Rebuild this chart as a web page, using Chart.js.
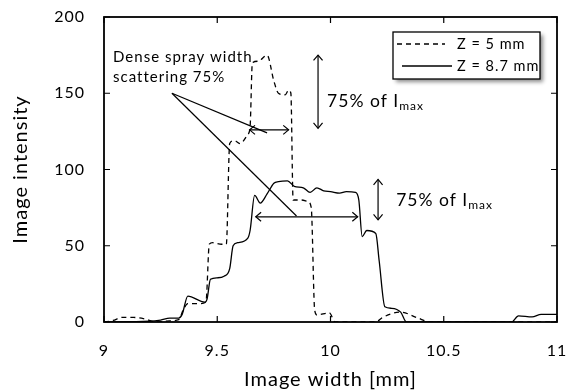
<!DOCTYPE html>
<html>
<head>
<meta charset="utf-8">
<script src="https://cdn.jsdelivr.net/npm/chart.js@4.4.1/dist/chart.umd.min.js"></script>
<style>
  html, body { margin: 0; padding: 0; background: #ffffff; }
  #wrap { width: 566px; height: 392px; }
</style>
</head>
<body>
<div id="wrap"><canvas id="chart" width="566" height="392"></canvas></div>
<script>
// ---- data ----
const xZ5 = [9.00, 9.04, 9.08, 9.13, 9.18, 9.23, 9.29, 9.33, 9.35, 9.37, 9.42, 9.45, 9.465, 9.48, 9.52, 9.54,
  9.555, 9.575, 9.60, 9.635, 9.645, 9.655, 9.68, 9.72, 9.75, 9.77, 9.80, 9.815, 9.825, 9.835, 9.87, 9.90,
  9.915, 9.93, 9.94, 9.995, 10.02, 10.20, 10.23, 10.31, 10.38, 10.44, 11.00];
const yZ5 = [0, 1, 3, 3, 2, 0, 0.8, 1.5, 8, 12, 12, 13, 51, 52, 51, 51,
  117, 119, 117, 123, 128, 170, 171, 175, 158, 150, 149, 152, 150, 80, 80, 79,
  75, 8, 4.6, 6, 0, 0, 3, 6.5, 3, 0, 0];

const xZ87 = [9.00, 9.20, 9.25, 9.29, 9.33, 9.345, 9.37, 9.445, 9.455, 9.47, 9.50, 9.53, 9.555, 9.57, 9.59, 9.635,
  9.645, 9.665, 9.69, 9.72, 9.75, 9.77, 9.81, 9.84, 9.88, 9.91, 9.94, 9.97, 10.00, 10.04, 10.07, 10.11,
  10.125, 10.14, 10.16, 10.20, 10.215, 10.24, 10.27, 10.31, 10.335, 10.80, 10.83, 10.89, 10.93, 11.00];
const yZ87 = [0, 0.5, 1.3, 2.6, 2.6, 5, 17, 13, 15, 28, 29, 30, 35, 50, 52, 55,
  60, 83, 78, 84, 91, 92, 92.5, 89, 88, 85, 88, 86, 85.5, 84.5, 85.5, 85,
  80, 56, 60, 58, 40, 10, 9, 6.5, 0, 0, 4, 3.3, 5, 5];

const xTicks = [9, 9.5, 10, 10.5, 11];
const yTicks = [0, 50, 100, 150, 200];

const seriesLabels = ["Z = 5 mm", "Z = 8.7 mm"];

// annotations, in data units
const noteText = ["Dense spray width", "scattering 75%"];
const notePos = [[9.04, 173.5], [9.04, 160.5]];
const leaderFrom = [9.30, 150];
const leaderTo = [[9.72, 124], [9.85, 69.5]];
const widthArrows = [[9.643, 9.815, 126], [9.67, 10.12, 69]];   // x1, x2, y
const heightArrows = [[9.945, 127, 175], [10.21, 67, 93.5]];    // x, y1, y2
const imaxLabels = [[9.985, 145], [10.29, 80]];

const FONT = "Lato, 'Open Sans', sans-serif";

function toXY(xs, ys) {
  return xs.map((x, i) => ({ x: x, y: ys[i] }));
}

function arrowHead(ctx, x, y, ang) {
  const len = 7, spread = 0.7;
  ctx.beginPath();
  ctx.moveTo(x - len * Math.cos(ang - spread), y - len * Math.sin(ang - spread));
  ctx.lineTo(x, y);
  ctx.lineTo(x - len * Math.cos(ang + spread), y - len * Math.sin(ang + spread));
  ctx.stroke();
}

function doubleArrow(ctx, x1, y1, x2, y2) {
  ctx.beginPath();
  ctx.moveTo(x1, y1);
  ctx.lineTo(x2, y2);
  ctx.stroke();
  const a = Math.atan2(y2 - y1, x2 - x1);
  arrowHead(ctx, x2, y2, a);
  arrowHead(ctx, x1, y1, a + Math.PI);
}

// the original text is rendered slightly spaced out
const spacingPlugin = {
  id: "spacing",
  beforeUpdate(chart) { chart.ctx.letterSpacing = "1px"; },
  beforeDraw(chart) { chart.ctx.letterSpacing = "1px"; },
};

const framePlugin = {
  id: "frame",
  afterDatasetsDraw(chart) {
    const ctx = chart.ctx;
    const xs = chart.scales.x, ys = chart.scales.y;
    const a = chart.chartArea;
    ctx.save();
    ctx.strokeStyle = "#000";
    ctx.fillStyle = "#000";
    ctx.setLineDash([]);

    // frame + inward ticks
    ctx.lineWidth = 1.8;
    ctx.strokeRect(a.left, a.top, a.right - a.left, a.bottom - a.top);
    ctx.lineWidth = 1.2;
    ctx.beginPath();
    xTicks.forEach((v) => {
      const px = xs.getPixelForValue(v);
      ctx.moveTo(px, a.bottom); ctx.lineTo(px, a.bottom - 6);
      ctx.moveTo(px, a.top); ctx.lineTo(px, a.top + 6);
    });
    yTicks.forEach((v) => {
      const py = ys.getPixelForValue(v);
      ctx.moveTo(a.left, py); ctx.lineTo(a.left + 6, py);
      ctx.moveTo(a.right, py); ctx.lineTo(a.right - 6, py);
    });
    ctx.stroke();

    // annotations
    ctx.lineWidth = 1.2;
    ctx.textBaseline = "middle";
    ctx.textAlign = "left";
    ctx.font = "15px " + FONT;
    noteText.forEach((t, i) => {
      ctx.fillText(t, xs.getPixelForValue(notePos[i][0]), ys.getPixelForValue(notePos[i][1]));
    });
    leaderTo.forEach((p) => {
      ctx.beginPath();
      ctx.moveTo(xs.getPixelForValue(leaderFrom[0]), ys.getPixelForValue(leaderFrom[1]));
      ctx.lineTo(xs.getPixelForValue(p[0]), ys.getPixelForValue(p[1]));
      ctx.stroke();
    });
    widthArrows.forEach((w) => {
      const py = ys.getPixelForValue(w[2]);
      doubleArrow(ctx, xs.getPixelForValue(w[0]), py, xs.getPixelForValue(w[1]), py);
    });
    heightArrows.forEach((h) => {
      const px = xs.getPixelForValue(h[0]);
      doubleArrow(ctx, px, ys.getPixelForValue(h[1]), px, ys.getPixelForValue(h[2]));
    });
    imaxLabels.forEach((p) => {
      const px = xs.getPixelForValue(p[0]), py = ys.getPixelForValue(p[1]);
      ctx.font = "17.5px " + FONT;
      ctx.fillText("75% of I", px, py);
      const w = ctx.measureText("75% of I").width;
      ctx.font = "12px " + FONT;
      ctx.fillText("max", px + w, py + 5);
    });

    // legend box
    const bx = a.right - 164, by = a.top + 15, bw = 147, bh = 47;
    ctx.save();
    ctx.shadowColor = "rgba(0,0,0,0.45)";
    ctx.shadowBlur = 4;
    ctx.shadowOffsetX = 3;
    ctx.shadowOffsetY = 3;
    ctx.fillStyle = "#fff";
    ctx.fillRect(bx, by, bw, bh);
    ctx.restore();
    ctx.lineWidth = 1.3;
    ctx.strokeRect(bx, by, bw, bh);
    chart.data.datasets.forEach((ds, i) => {
      const ly = by + 12 + i * 22;
      ctx.lineWidth = ds.borderWidth;
      ctx.setLineDash(ds.borderDash || []);
      ctx.beginPath();
      ctx.moveTo(bx + (i === 0 ? 4 : 9), ly);
      ctx.lineTo(bx + (i === 0 ? 52 : 59), ly);
      ctx.stroke();
      ctx.setLineDash([]);
      ctx.font = "14.5px " + FONT;
      ctx.fillText(ds.label, bx + 64, ly);
    });
    ctx.restore();
  }
};

new Chart(document.getElementById("chart"), {
  type: "line",
  data: {
    datasets: [
      {
        label: seriesLabels[0],
        data: toXY(xZ5, yZ5),
        borderColor: "#000",
        borderWidth: 1.3,
        borderDash: [5, 4],
        pointRadius: 0,
        fill: false,
        cubicInterpolationMode: "monotone",
      },
      {
        label: seriesLabels[1],
        data: toXY(xZ87, yZ87),
        borderColor: "#000",
        borderWidth: 1.3,
        pointRadius: 0,
        fill: false,
        cubicInterpolationMode: "monotone",
      },
    ],
  },
  options: {
    responsive: false,
    animation: false,
    events: [],
    layout: { padding: { top: 17, right: 9, left: 0, bottom: 0 } },
    plugins: {
      legend: { display: false },
      tooltip: { enabled: false },
    },
    scales: {
      x: {
        type: "linear",
        min: 9,
        max: 11,
        afterBuildTicks: (s) => { s.ticks = xTicks.map((v) => ({ value: v })); },
        afterFit: (s) => { s.height = 70; s.paddingLeft = 0; s.paddingRight = 0; },
        grid: { display: false, drawTicks: false },
        border: { display: false },
        ticks: {
          color: "#000",
          padding: 19,
          maxRotation: 0,
          font: { family: FONT, size: 16 },
          callback: (v) => String(v),
        },
        title: {
          display: true,
          text: "Image width [mm]",
          color: "#000",
          font: { family: FONT, size: 20 },
          padding: { top: 0, bottom: 0 },
        },
      },
      y: {
        min: 0,
        max: 200,
        afterBuildTicks: (s) => { s.ticks = yTicks.map((v) => ({ value: v })); },
        afterFit: (s) => { s.width = 104; s.paddingTop = 0; s.paddingBottom = 0; },
        grid: { display: false, drawTicks: false },
        border: { display: false },
        ticks: {
          color: "#000",
          padding: 19,
          font: { family: FONT, size: 16 },
        },
        title: {
          display: true,
          text: "Image intensity",
          color: "#000",
          font: { family: FONT, size: 20 },
          padding: { top: 9, bottom: 0 },
        },
      },
    },
  },
  plugins: [spacingPlugin, framePlugin],
});
</script>
</body>
</html>
